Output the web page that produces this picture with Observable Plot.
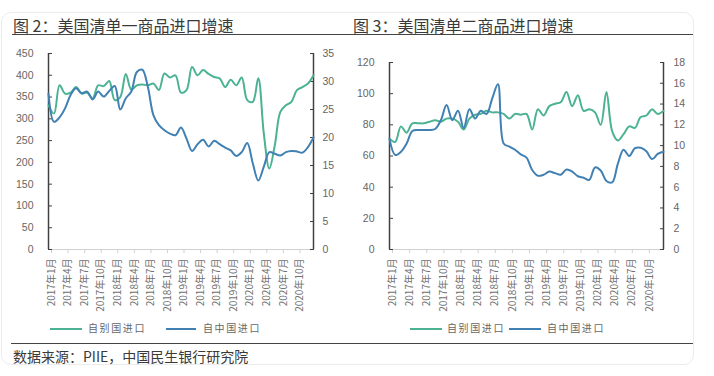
<!DOCTYPE html>
<html><head><meta charset="utf-8">
<script src="https://cdn.jsdelivr.net/npm/d3@7"></script>
<script src="https://cdn.jsdelivr.net/npm/@observablehq/plot@0.6"></script>
<style>
body{margin:0;background:#fff;font-family:"Noto Sans CJK SC","Noto Sans",sans-serif;}
#wrap{position:relative;width:714px;height:376px;overflow:hidden;}
#card{position:absolute;left:1px;top:12px;width:693px;height:353px;border:1px solid #ececec;border-radius:10px;box-sizing:border-box;}
.title{position:absolute;top:16px;font-size:16px;line-height:18px;color:#3a3a3a;white-space:nowrap;}
.hline{position:absolute;height:0;border-top:1.5px solid #444;}
.chart{position:absolute;top:45px;}
.leg{position:absolute;top:320px;height:16px;font-size:10px;line-height:16px;color:#666;letter-spacing:1.6px;white-space:nowrap;}
.sw{position:absolute;top:8px;height:0;border-top:2px solid;}
.src{position:absolute;left:13px;top:347px;font-size:14px;line-height:18px;color:#3a3a3a;white-space:nowrap;}
</style>
</head><body>
<div id="wrap">
  <div id="card"></div>
  <div class="title" style="left:13px">图 2：美国清单一商品进口增速</div>
  <div class="title" style="left:353px">图 3：美国清单二商品进口增速</div>
  <div class="hline" style="left:12px;width:681px;top:34px"></div>
  <div id="c2" class="chart" style="left:0px"></div>
  <div id="c3" class="chart" style="left:350px"></div>
  <div id="leg2"></div>
  <div id="leg3"></div>
  <div class="hline" style="left:11px;width:682px;top:343px"></div>
  <div class="src">数据来源：PIIE，中国民生银行研究院</div>
</div>
<script>
// ---- data ----
const tickIdx = [0,3,6,9,12,15,18,21,24,27,30,33,36,39,42,45];
const tickLabels = ["2017年1月","2017年4月","2017年7月","2017年10月","2018年1月","2018年4月","2018年7月","2018年10月","2019年1月","2019年4月","2019年7月","2019年10月","2020年1月","2020年4月","2020年7月","2020年10月"];
const seriesNames = ["自别国进口","自中国进口"];
const colors = ["#4bb293","#4080b3"];

// 图2: 2017-01 .. 2021-01 monthly
const c2Other = [331,312,377,358,360,373,358,360,347,377,375,387,343,350,403,367,377,379,377,381,366,404,395,400,360,366,419,400,412,403,396,393,373,390,377,395,343,339,393,266,186,240,316,331,339,366,373,381,400]; // left axis
const c2China = [27.8,22.8,23.6,25.2,27.6,28.8,27.9,28.2,26.8,28.2,27.3,28.3,29.2,25.0,27.0,28.2,31.7,32.1,29.0,24.0,22.2,21.3,20.7,20.4,21.8,19.8,17.6,18.8,19.6,18.4,19.4,18.8,18.2,17.7,16.7,17.4,19.0,15.4,12.3,14.8,17.4,17.1,16.8,17.4,17.6,17.5,17.3,18.3,20.0]; // right axis

// 图3
const c3Other = [71,69,79,75,81,81,81,82,83,82,84,84,82,77,84,86.5,87,89,88,88,87,84,87,86.5,87,77,90,86,92,93.5,94.5,101,92,99,89,90,88,80,101,76,70,74,79,78,85,86,90,87,89]; // left axis
const c3China = [10.65,9.1,9.4,10.2,11.4,11.5,11.5,11.5,11.6,12.45,13.9,12.45,13.35,11.7,13.5,12.6,13.35,13.05,14.55,15.9,10.2,9.9,9.6,9.15,8.85,7.65,7.1,7.2,7.5,7.35,7.2,7.7,7.5,7.05,6.9,6.7,7.9,7.6,6.6,6.45,8.25,9.6,9.0,9.75,9.8,9.45,8.7,9.2,9.4]; // right axis

const c2Axes = {yMax:450, yStep:50, y2Max:35, y2Step:5};
const c3Axes = {yMax:120, yStep:20, y2Max:18, y2Step:2};

function chart(other, china, ax, lay) {
  const k = ax.yMax / ax.y2Max;
  const rows = other.map((v, i) => ({i, other: v, china: china[i] * k}));
  const n = other.length - 1;
  return Plot.plot({
    width: lay.width, height: 270,
    marginLeft: lay.ml, marginRight: lay.mr, marginTop: lay.mt, marginBottom: 270 - lay.mt - lay.h,
    style: {fontFamily: "'Liberation Sans', Arial, sans-serif", fontSize: "10.5px", color: "#666", background: "none", overflow: "visible"},
    x: {domain: [0, n]},
    y: {domain: [0, ax.yMax]},
    marks: [
      Plot.ruleY([0], {stroke: "#d0d0d0", strokeWidth: 1}),
      Plot.axisX({ticks: tickIdx, tickFormat: i => tickLabels[tickIdx.indexOf(i)], tickRotate: -90,
        tickSize: 4, tickPadding: 5, stroke: "#d0d0d0", fill: "#707070", fontSize: 10, label: null, dx: 3,
        fontFamily: "'Noto Sans CJK SC', sans-serif"}),
      Plot.axisY({anchor: "left", ticks: d3.range(0, ax.yMax + 1, ax.yStep), tickSize: -4, tickPadding: lay.padL,
        stroke: "#404040", fill: "#666", label: null}),
      Plot.axisY({anchor: "right", ticks: d3.range(0, ax.y2Max + 1, ax.y2Step).map(v => v * k),
        tickFormat: v => Math.round(v / k), tickSize: -4, tickPadding: lay.padR,
        stroke: "#404040", fill: "#666", label: null}),
      Plot.ruleX([0, n], {stroke: "#404040", strokeWidth: 1.5}),
      Plot.line(rows, {x: "i", y: "other", stroke: colors[0], strokeWidth: 2, curve: "catmull-rom"}),
      Plot.line(rows, {x: "i", y: "china", stroke: colors[1], strokeWidth: 2, curve: "catmull-rom"})
    ]
  });
}

document.getElementById("c2").append(chart(c2Other, c2China, c2Axes, {width: 355, ml: 48, mr: 42, mt: 8, h: 196, padL: 19, padR: 13}));
document.getElementById("c3").append(chart(c3Other, c3China, c3Axes, {width: 360, ml: 39, mr: 47, mt: 17, h: 187, padL: 19, padR: 14}));

function legend(id, pos) {
  const el = document.getElementById(id);
  seriesNames.forEach((name, j) => {
    const p = pos[j];
    const sw = document.createElement("div");
    sw.className = "sw"; sw.style.left = p[0] + "px"; sw.style.width = (p[1] - p[0]) + "px";
    sw.style.borderTopColor = colors[j]; sw.style.top = "328px"; sw.style.position = "absolute";
    el.append(sw);
    const t = document.createElement("div");
    t.className = "leg"; t.style.left = p[2] + "px"; t.textContent = name;
    el.append(t);
  });
}
legend("leg2", [[50, 82, 88], [166, 196, 203]]);
legend("leg3", [[410, 442, 447], [509, 541, 547]]);
</script>
</body></html>
